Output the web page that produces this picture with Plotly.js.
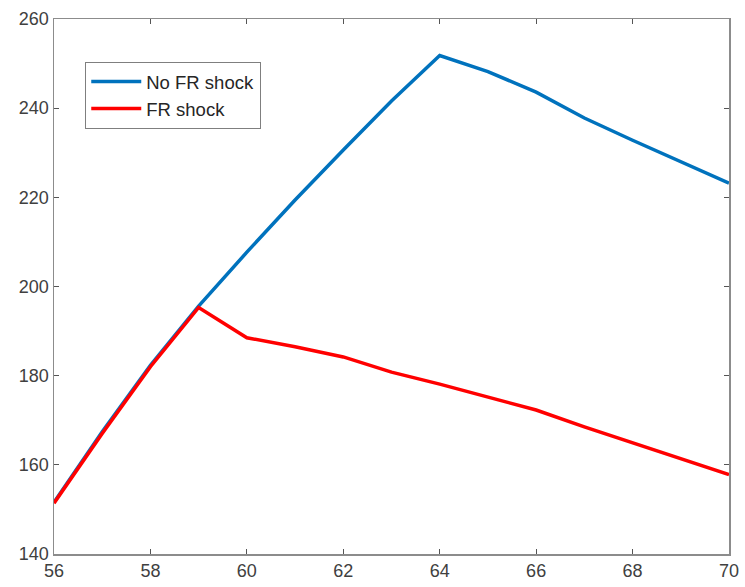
<!DOCTYPE html>
<html>
<head>
<meta charset="utf-8">
<script src="https://cdn.plot.ly/plotly-3.0.1.min.js"></script>
<style>
  html, body { margin: 0; padding: 0; background: #fff; }
  #chart { width: 745px; height: 587px; }
</style>
</head>
<body>
<div id="chart"></div>
<script>
// Age on the horizontal axis
const ages = [56, 57, 58, 59, 60, 61, 62, 63, 64, 65, 66, 67, 68, 69, 70];

// Path without the shock
const noShock = [151.6, 167.4, 182.3, 195.6, 207.7, 219.4, 230.6, 241.6, 251.8, 248.2, 243.6, 237.8, 232.8, 228.0, 223.2];

// Path with the shock hitting after age 59
const withShock = [151.4, 167.0, 182.0, 195.3, 188.5, 186.5, 184.2, 180.8, 178.1, 175.3, 172.3, 168.5, 165.0, 161.3, 157.8];

const seriesNames = ['No FR shock', 'FR shock'];

const axisGray = '#8c8c8c';
const textGray = '#404040';

const traces = [
  {
    x: ages, y: noShock, name: seriesNames[0],
    type: 'scatter', mode: 'lines',
    line: { color: '#0072BD', width: 3.5 }
  },
  {
    x: ages, y: withShock, name: seriesNames[1],
    type: 'scatter', mode: 'lines',
    line: { color: '#FF0000', width: 3.5 }
  }
];

const axisCommon = {
  showgrid: false,
  zeroline: false,
  showline: true,
  linecolor: axisGray,
  linewidth: 1.5,
  mirror: 'ticks',
  ticks: 'inside',
  ticklen: 5,
  tickwidth: 1,
  tickcolor: '#555',
  tickfont: { family: 'Liberation Sans, Arial, sans-serif', size: 18, color: textGray }
};

const layout = {
  width: 745,
  height: 587,
  margin: { l: 54, r: 16, t: 19, b: 33, pad: 0 },
  paper_bgcolor: '#ffffff',
  plot_bgcolor: '#ffffff',
  showlegend: true,
  xaxis: Object.assign({}, axisCommon, { range: [56, 70], tick0: 56, dtick: 2 }),
  yaxis: Object.assign({}, axisCommon, { range: [140, 260], tick0: 140, dtick: 20 }),
  legend: {
    x: 0.046, y: 0.92, xanchor: 'left', yanchor: 'top',
    bgcolor: '#ffffff',
    bordercolor: '#7f7f7f',
    borderwidth: 1.2,
    itemwidth: 50,
    font: { family: 'Liberation Sans, Arial, sans-serif', size: 18.5, color: '#262626' },
    tracegroupgap: 0
  }
};

Plotly.newPlot('chart', traces, layout, { displayModeBar: false, staticPlot: true });
</script>
</body>
</html>
